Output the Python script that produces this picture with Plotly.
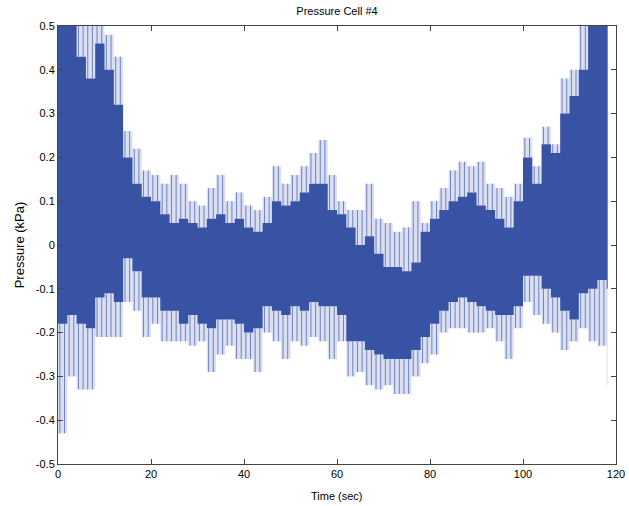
import plotly.graph_objects as go

# Time samples (sec)
t = list(range(0, 120, 2))
# Core (solid) upper and lower envelopes, kPa
upper_core = [0.5, 0.5, 0.43, 0.38, 0.46, 0.40, 0.32, 0.20, 0.14, 0.11,
              0.10, 0.07, 0.05, 0.06, 0.05, 0.04, 0.06, 0.07, 0.05, 0.06,
              0.04, 0.03, 0.05, 0.10, 0.09, 0.10, 0.12, 0.14, 0.14, 0.08,
              0.07, 0.04, 0.00, 0.02, -0.02, -0.05, -0.05, -0.06, -0.04, 0.03,
              0.06, 0.08, 0.10, 0.11, 0.12, 0.09, 0.08, 0.06, 0.04, 0.10,
              0.20, 0.14, 0.23, 0.21, 0.30, 0.34, 0.40, 0.5, 0.5, 0.5]
lower_core = [-0.18, -0.16, -0.18, -0.19, -0.12, -0.11, -0.13, -0.03, -0.06, -0.12,
              -0.12, -0.15, -0.15, -0.18, -0.16, -0.18, -0.19, -0.17, -0.17, -0.18,
              -0.20, -0.19, -0.14, -0.15, -0.16, -0.14, -0.15, -0.13, -0.14, -0.14,
              -0.16, -0.22, -0.22, -0.24, -0.25, -0.26, -0.26, -0.26, -0.24, -0.21,
              -0.18, -0.15, -0.13, -0.12, -0.13, -0.14, -0.15, -0.16, -0.16, -0.14,
              -0.07, -0.07, -0.10, -0.12, -0.15, -0.17, -0.11, -0.10, -0.08, -0.10]
# Spike extremes
upper_spike = [0.5, 0.5, 0.5, 0.5, 0.5, 0.48, 0.43, 0.26, 0.22, 0.17,
               0.16, 0.14, 0.16, 0.14, 0.10, 0.09, 0.13, 0.16, 0.10, 0.12,
               0.09, 0.08, 0.11, 0.18, 0.14, 0.16, 0.18, 0.21, 0.24, 0.16,
               0.10, 0.08, 0.08, 0.14, 0.06, 0.05, 0.03, 0.04, 0.10, 0.05,
               0.10, 0.13, 0.17, 0.19, 0.18, 0.19, 0.14, 0.13, 0.11, 0.14,
               0.245, 0.18, 0.27, 0.23, 0.38, 0.40, 0.5, 0.5, 0.5, 0.5]
lower_spike = [-0.43, -0.30, -0.33, -0.33, -0.21, -0.21, -0.21, -0.13, -0.15, -0.21,
               -0.18, -0.22, -0.22, -0.22, -0.23, -0.22, -0.29, -0.25, -0.23, -0.26,
               -0.26, -0.29, -0.20, -0.22, -0.26, -0.22, -0.23, -0.21, -0.22, -0.26,
               -0.22, -0.30, -0.29, -0.32, -0.33, -0.32, -0.34, -0.34, -0.30, -0.27,
               -0.25, -0.20, -0.19, -0.19, -0.20, -0.20, -0.19, -0.22, -0.26, -0.19,
               -0.13, -0.16, -0.18, -0.20, -0.24, -0.22, -0.19, -0.22, -0.23, -0.32]

x_ticks = [0, 20, 40, 60, 80, 100, 120]
y_ticks = [-0.5, -0.4, -0.3, -0.2, -0.1, 0, 0.1, 0.2, 0.3, 0.4, 0.5]
y_tick_text = ["-0.5", "-0.4", "-0.3", "-0.2", "-0.1", "0", "0.1", "0.2", "0.3", "0.4", "0.5"]

BLUE = "rgb(56,82,164)"
LIGHT = "rgb(218,224,241)"
T_END = 118.2

t_end = t + [T_END]
fig = go.Figure()
# pale outer fringe (spike envelope)
fig.add_trace(go.Scatter(x=t_end, y=lower_spike + [lower_spike[-1]], mode="lines",
                         line=dict(width=0, shape="hv"), hoverinfo="skip", showlegend=False))
fig.add_trace(go.Scatter(x=t_end, y=upper_spike + [upper_spike[-1]], mode="lines",
                         line=dict(width=0, shape="hv"), fill="tonexty", fillcolor=LIGHT,
                         hoverinfo="skip", showlegend=False))
# solid core band
fig.add_trace(go.Scatter(x=t_end, y=lower_core + [lower_core[-1]], mode="lines",
                         line=dict(width=0, shape="hv"), hoverinfo="skip", showlegend=False))
fig.add_trace(go.Scatter(x=t_end, y=upper_core + [upper_core[-1]], mode="lines",
                         line=dict(width=0, shape="hv"), fill="tonexty", fillcolor=BLUE,
                         hoverinfo="skip", showlegend=False))
# spikes
sx, sy = [], []
for ti, uc, us, lc, ls in zip(t, upper_core, upper_spike, lower_core, lower_spike):
    for xs in (ti + 0.4, ti + 1.4):
        if xs > T_END:
            continue
        sx += [xs, xs, None, xs, xs, None]
        sy += [uc, us, None, lc, ls, None]
fig.add_trace(go.Scatter(x=sx, y=sy, mode="lines", line=dict(width=1, color="rgb(112,130,192)"),
                         hoverinfo="skip", showlegend=False))

font = dict(family="Liberation Sans, Arial, sans-serif", size=11, color="black")
fig.update_layout(
    width=629, height=506,
    margin=dict(l=58, r=13, t=26, b=42, autoexpand=False),
    paper_bgcolor="white", plot_bgcolor="white",
    font=font,
    title=dict(text="Pressure Cell #4", x=(58 + 616) / 2 / 629, xanchor="center",
               y=1 - 11 / 506, yanchor="middle", font=dict(size=11)),
    showlegend=False,
    annotations=[dict(text="Time (sec)", xref="paper", yref="paper", x=0.5, y=0,
                      xanchor="center", yanchor="top", yshift=-24, showarrow=False,
                      font=dict(size=11))],
)
fig.update_xaxes(range=[0, 120], tickvals=x_ticks, ticks="inside", ticklen=5,
                 showline=True, linecolor="#444", linewidth=1, mirror="ticks",
                 showgrid=False, zeroline=False, automargin=False)
fig.update_yaxes(range=[-0.5, 0.5], tickvals=y_ticks, ticktext=y_tick_text, ticks="inside",
                 ticklen=5, showline=True, linecolor="#444", linewidth=1, mirror="ticks",
                 showgrid=False, zeroline=False, automargin=False,
                 title=dict(text="Pressure (kPa)", standoff=8))
fig.write_html("out.html", config={"displayModeBar": False},
               post_script="document.body.style.margin='0';document.body.style.overflow='hidden';")
